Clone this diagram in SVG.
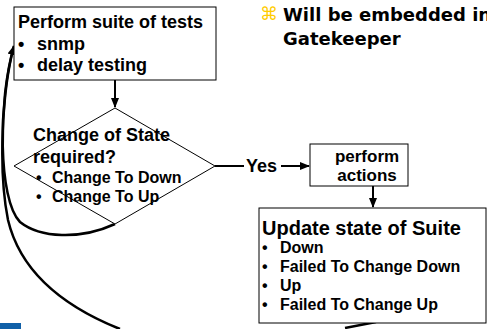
<svg xmlns="http://www.w3.org/2000/svg" width="487" height="329" viewBox="0 0 487 329">
<defs>
<style>
.box{fill:#fff;stroke:#000;stroke-width:1}
.t{font-family:"Liberation Sans",Arial,sans-serif;font-weight:bold;fill:#000}
.h{font-size:18px}
.i{font-size:16px}
.ln{fill:none;stroke:#000;stroke-width:2}
.cv{fill:none;stroke:#000;stroke-width:2.5}
</style>
<marker id="ah" markerWidth="10" markerHeight="10" refX="9" refY="5" orient="auto" markerUnits="userSpaceOnUse">
<path d="M0,1 L10,5 L0,9 Z" fill="#000"/>
</marker>
</defs>
<rect x="0" y="0" width="487" height="329" fill="#fff"/>
<rect x="0" y="323" width="21" height="6" fill="#1060a8"/>

<g id="note">
<text x="260" y="20" font-family="'DejaVu Sans',sans-serif" font-size="18" fill="#ffcc00">⌘</text>
<text font-family="'DejaVu Sans',Verdana,sans-serif" font-weight="bold" font-size="18" fill="#000"><tspan x="283" y="21">Will be embedded in</tspan><tspan x="283" y="45">Gatekeeper</tspan></text>
</g>

<g id="connectors">
<line class="ln" x1="115" y1="80" x2="115" y2="107" marker-end="url(#ah)"/>
<line class="ln" x1="215" y1="166" x2="244" y2="166"/>
<line class="ln" x1="281" y1="166" x2="309" y2="166" marker-end="url(#ah)"/>
<text class="t h" x="246" y="172">Yes</text>
<line class="ln" x1="373" y1="186" x2="373" y2="207" marker-end="url(#ah)"/>
<path class="cv" d="M115,224 C80,240 40,238 20,222 C-2,200 -2,100 14,46" marker-end="url(#ah)"/>
<path class="cv" d="M376,322 L345,328"/>
<path class="cv" d="M120,329 C60,305 20,270 8,220 C-2,170 2,90 14,46"/>
</g>

<g id="tests">
<rect class="box" x="14" y="7" width="202" height="73"/>
<text class="t h" x="18" y="28">Perform suite of tests</text>
<text class="t h" x="18" y="50">•</text><text class="t h" x="37" y="50">snmp</text>
<text class="t h" x="18" y="71">•</text><text class="t h" x="37" y="71">delay testing</text>
</g>

<g id="decision">
<path class="box" d="M115,108 L215,166 L115,224 L14,166 Z" fill="none"/>
<text class="t h" x="33" y="141">Change of State</text>
<text class="t h" x="33" y="163">required?</text>
<text class="t i" x="36" y="183">•</text><text class="t i" x="52" y="183">Change To Down</text>
<text class="t i" x="36" y="202">•</text><text class="t i" x="52" y="202">Change To Up</text>
</g>

<g id="actions">
<rect class="box" x="310" y="144" width="98" height="42"/>
<text class="t" font-size="17" x="367" y="162" text-anchor="middle">perform</text>
<text class="t" font-size="17" x="367" y="181" text-anchor="middle">actions</text>
</g>

<g id="update">
<rect class="box" x="259" y="208" width="227" height="115"/>
<text class="t" font-size="20" x="262" y="235">Update state of Suite</text>
<text class="t i" x="262" y="253">•</text><text class="t i" x="280" y="253">Down</text>
<text class="t i" x="262" y="272">•</text><text class="t i" x="280" y="272">Failed To Change Down</text>
<text class="t i" x="262" y="291">•</text><text class="t i" x="280" y="291">Up</text>
<text class="t i" x="262" y="310">•</text><text class="t i" x="280" y="310">Failed To Change Up</text>
</g>
</svg>
